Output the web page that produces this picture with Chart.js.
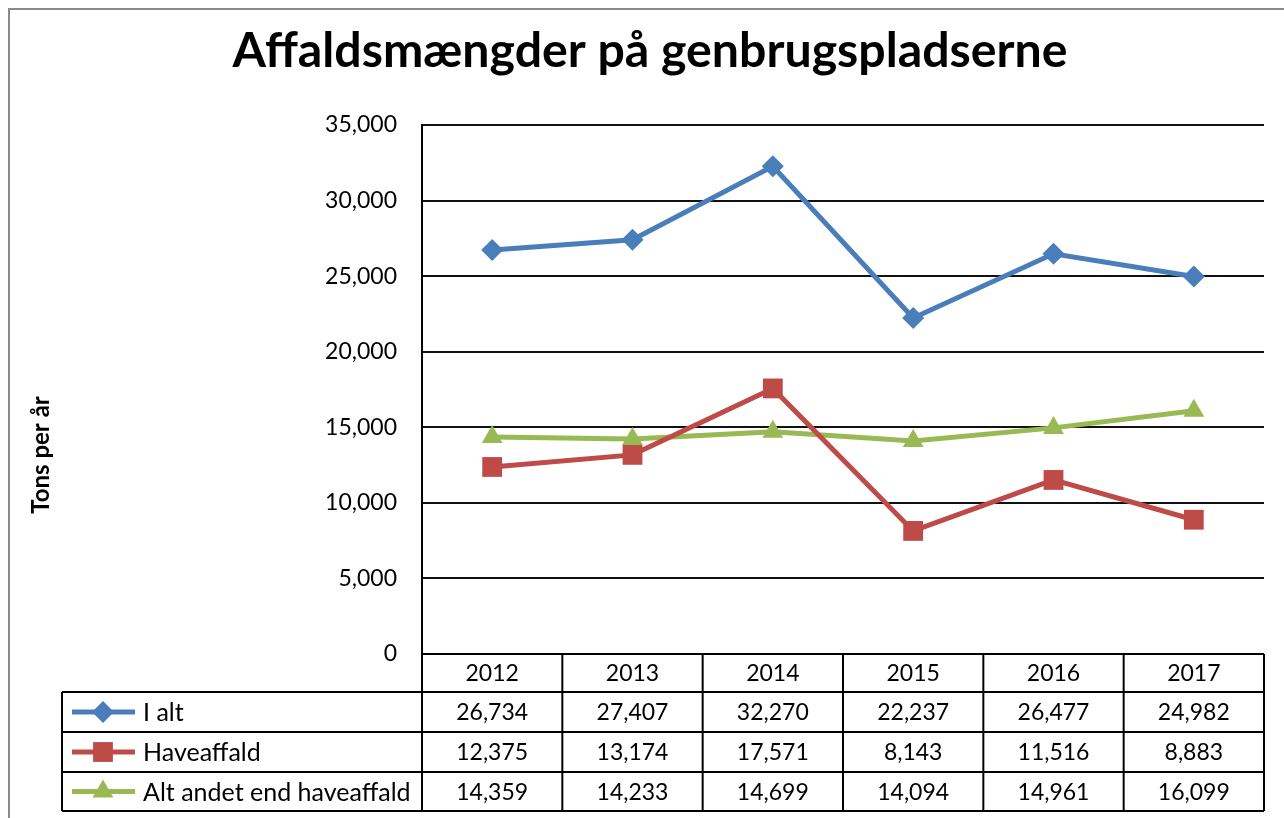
<!DOCTYPE html>
<html>
<head>
<meta charset="utf-8">
<script src="https://cdn.jsdelivr.net/npm/chart.js@4"></script>
<style>
html,body{margin:0;padding:0;background:#fff;}
#wrap{width:1284px;height:818px;position:relative;}
</style>
</head>
<body>
<div id="wrap"><canvas id="c" width="1284" height="818"></canvas></div>
<script>
const titleText = "Affaldsmængder på genbrugspladserne";
const yAxisTitle = "Tons per år";
const years = ["2012", "2013", "2014", "2015", "2016", "2017"];
const seriesNames = ["I alt", "Haveaffald", "Alt andet end haveaffald"];
const iAlt = [26734, 27407, 32270, 22237, 26477, 24982];
const haveaffald = [12375, 13174, 17571, 8143, 11516, 8883];
const altAndet = [14359, 14233, 14699, 14094, 14961, 16099];
const yTicks = [0, 5000, 10000, 15000, 20000, 25000, 30000, 35000];

const FONT = "Lato, 'Open Sans', sans-serif";
const fmt = v => v.toLocaleString('en-US');

const colors = ["#4A7EBB", "#BE4B48", "#98B954"];
const styles = [
  {pointStyle: 'rectRot', radius: 11},
  {pointStyle: 'rect', radius: 14},
  {pointStyle: 'triangle', radius: 12}
];
const allSeries = [iAlt, haveaffald, altAndet];

const datasets = allSeries.map((d, i) => ({
  label: seriesNames[i],
  data: d,
  borderColor: colors[i],
  backgroundColor: colors[i],
  borderWidth: 5,
  pointStyle: styles[i].pointStyle,
  pointRadius: styles[i].radius,
  pointHoverRadius: styles[i].radius,
  pointBorderWidth: 0,
  tension: 0
}));

const decor = {
  id: 'decor',
  beforeDraw(chart) {
    const ctx = chart.ctx;
    ctx.save();
    ctx.fillStyle = '#fff';
    ctx.fillRect(0, 0, chart.width, chart.height);
    ctx.strokeStyle = '#8a8a8a';
    ctx.lineWidth = 2;
    ctx.strokeRect(9, 9, chart.width + 20, chart.height + 20);
    ctx.restore();
  },
  afterDraw(chart) {
    const ctx = chart.ctx;
    const area = chart.chartArea;
    const xs = chart.scales.x;
    ctx.save();
    // title
    ctx.fillStyle = '#000';
    let size = 40;
    ctx.font = `bold ${size}px ${FONT}`;
    const w = ctx.measureText(titleText).width;
    size = size * 835 / w;
    ctx.font = `bold ${size}px ${FONT}`;
    ctx.textAlign = 'center';
    ctx.textBaseline = 'alphabetic';
    ctx.fillText(titleText, 650, 67);

    // y axis title
    ctx.save();
    ctx.translate(41, 455);
    ctx.rotate(-Math.PI / 2);
    ctx.font = `bold 24px ${FONT}`;
    ctx.textAlign = 'center';
    ctx.textBaseline = 'middle';
    ctx.fillText(yAxisTitle, 0, 0);
    ctx.restore();

    // data table
    const n = years.length;
    const colW = (area.right - area.left) / n;
    const rowTops = [area.bottom, 692, 732, 772, 811];
    const legendLeft = 62;
    ctx.strokeStyle = '#000';
    ctx.lineWidth = 2;
    ctx.beginPath();
    ctx.moveTo(area.left, rowTops[0]); ctx.lineTo(area.right, rowTops[0]);
    for (let r = 1; r < rowTops.length; r++) {
      ctx.moveTo(legendLeft, rowTops[r]); ctx.lineTo(area.right, rowTops[r]);
    }
    for (let i = 0; i <= n; i++) {
      const x = i < n ? xs.getPixelForValue(i) - colW / 2 : xs.getPixelForValue(n - 1) + colW / 2;
      ctx.moveTo(x, rowTops[0]); ctx.lineTo(x, rowTops[4]);
    }
    ctx.moveTo(legendLeft, rowTops[1]); ctx.lineTo(legendLeft, rowTops[4]);
    ctx.stroke();

    ctx.fillStyle = '#000';
    ctx.font = `23px ${FONT}`;
    ctx.textAlign = 'center';
    ctx.textBaseline = 'middle';
    years.forEach((y, i) => {
      ctx.fillText(y, xs.getPixelForValue(i), (rowTops[0] + rowTops[1]) / 2 + 1);
    });
    allSeries.forEach((d, s) => {
      const cy = (rowTops[s + 1] + rowTops[s + 2]) / 2 + 1;
      ctx.font = `23px ${FONT}`;
      d.forEach((v, i) => {
        ctx.fillText(fmt(v), xs.getPixelForValue(i), cy);
      });
      const ly = cy - 1;
      ctx.strokeStyle = colors[s];
      ctx.lineWidth = 5;
      ctx.beginPath();
      ctx.moveTo(72, ly); ctx.lineTo(135, ly);
      ctx.stroke();
      ctx.fillStyle = colors[s];
      Chart.helpers.drawPoint(ctx, {pointStyle: styles[s].pointStyle, radius: styles[s].radius, rotation: 0, borderWidth: 0}, 103, ly);
      ctx.fillStyle = '#000';
      ctx.textAlign = 'left';
      ctx.font = `25px ${FONT}`;
      ctx.fillText(seriesNames[s], 143, cy);
      ctx.textAlign = 'center';
    });
    ctx.restore();
  }
};

new Chart(document.getElementById('c'), {
  type: 'line',
  data: {labels: years, datasets},
  options: {
    responsive: false,
    animation: false,
    layout: {padding: {top: 125, bottom: 164, right: 20, left: 0}},
    plugins: {legend: {display: false}, title: {display: false}, tooltip: {enabled: false}},
    scales: {
      x: {display: false, offset: true},
      y: {
        min: 0, max: 35000,
        afterFit(scale) { scale.width = 422; },
        afterBuildTicks(scale) { scale.ticks = yTicks.map(v => ({value: v})); },
        ticks: {
          padding: 25,
          color: '#000',
          font: {family: FONT, size: 23},
          callback: v => fmt(v)
        },
        grid: {color: '#111', lineWidth: 2, drawTicks: false},
        border: {display: true, color: '#000', width: 2}
      }
    }
  },
  plugins: [decor]
});
</script>
</body>
</html>
